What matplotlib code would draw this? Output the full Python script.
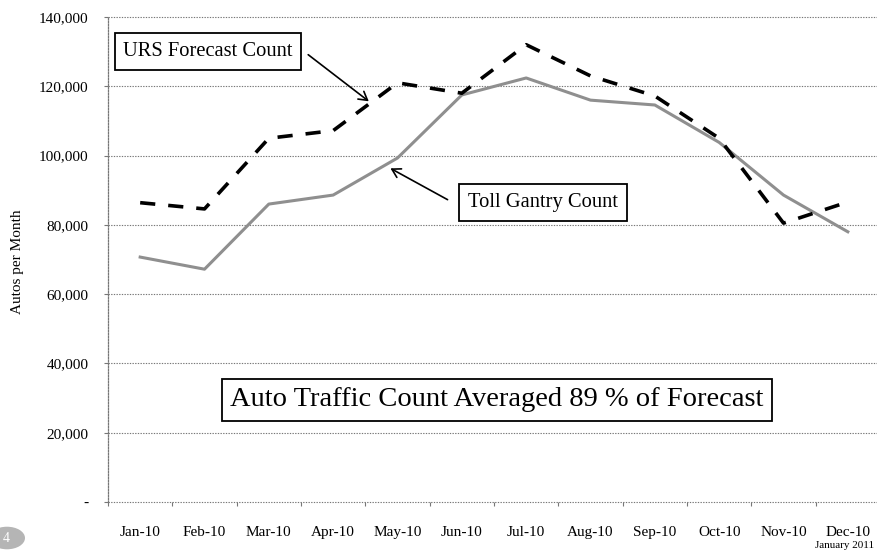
import matplotlib
matplotlib.use("Agg")
import matplotlib.pyplot as plt
from matplotlib.patches import Circle, FancyArrowPatch
from matplotlib.ticker import FuncFormatter, FixedLocator

months = ["Jan-10", "Feb-10", "Mar-10", "Apr-10", "May-10", "Jun-10",
          "Jul-10", "Aug-10", "Sep-10", "Oct-10", "Nov-10", "Dec-10"]
urs_forecast = [86400, 84600, 105000, 107200, 121000, 118000,
                132000, 123000, 117200, 105000, 80500, 86600]
toll_gantry = [70700, 67200, 86000, 88600, 99300, 117500,
               122400, 116000, 114600, 103800, 88600, 78000]
y_ticks = [0, 20000, 40000, 60000, 80000, 100000, 120000, 140000]

W, H = 877, 550
fig = plt.figure(figsize=(W / 100, H / 100), dpi=100)
plt.rcParams['font.family'] = ['Liberation Serif', 'DejaVu Serif']

def fx(px):
    return px / W

def fy(py):
    return 1 - py / H

ax = fig.add_axes([fx(108), fy(502), (880 - 108) / W, (502 - 17) / H])
x = list(range(len(months)))

ax.plot(x, toll_gantry, color='#8f8f8f', lw=2.2, solid_joinstyle='round', zorder=3)
ax.plot(x, urs_forecast, color='black', lw=2.6, dashes=(4.2, 3.6), zorder=4)

ax.set_xlim(-0.5, len(months) - 0.5)
ax.set_ylim(0, 140000)
ax.set_yticks(y_ticks)
ax.yaxis.set_major_formatter(FuncFormatter(lambda v, p: '-' if v == 0 else f'{int(v):,}'))
ax.set_xticks(x)
ax.set_xticklabels(months)
ax.xaxis.set_minor_locator(FixedLocator([i - 0.5 for i in range(len(months) + 1)]))
ax.tick_params(axis='x', which='major', length=0, pad=17, labelsize=11)
ax.tick_params(axis='x', which='minor', length=3, color='#777777', width=0.8)
ax.tick_params(axis='y', which='major', length=3, color='#777777', width=0.8,
               labelsize=11, pad=11)

for v in y_ticks:
    ax.axhline(v, color='#777777', lw=0.8, ls=(0, (1.2, 1.2)), zorder=1, clip_on=False)

for s in ['top', 'right', 'bottom']:
    ax.spines[s].set_visible(False)
ax.spines['left'].set_color('#777777')
ax.spines['left'].set_linestyle((0, (1.2, 1.2)))
ax.spines['left'].set_linewidth(0.9)

fig.text(fx(18), fy(262), 'Autos per Month', rotation=90, ha='center', va='center',
         fontsize=11)

box = dict(boxstyle='square,pad=0.42', fc='white', ec='black', lw=1.3)
fig.text(fx(208), fy(51.5), 'URS Forecast Count', ha='center', va='center',
         fontsize=14.8, bbox=box, zorder=10)
fig.text(fx(543), fy(202.5), 'Toll Gantry Count', ha='center', va='center',
         fontsize=14.8, bbox=box, zorder=10)
fig.text(fx(497), fy(400), 'Auto Traffic Count Averaged 89 % of Forecast', ha='center',
         va='center', fontsize=20.5, bbox=dict(boxstyle='square,pad=0.3', fc='white',
                                               ec='black', lw=1.3), zorder=10)

fig.add_artist(FancyArrowPatch(
    (fx(306), fy(53)), (fx(371), fy(103)), transform=fig.transFigure,
    arrowstyle='->,head_length=6,head_width=3.5', color='black', lw=1.2, zorder=11))
fig.add_artist(FancyArrowPatch(
    (fx(450), fy(201)), (fx(388), fy(167)), transform=fig.transFigure,
    arrowstyle='->,head_length=6,head_width=3.5', color='black', lw=1.2, zorder=11))

fig.text(fx(874), fy(549.5), 'January 2011', ha='right', va='bottom', fontsize=8)

fig.add_artist(Circle((fx(7), fy(538)), 18 / W, transform=fig.transFigure,
                      fc='#b5b5b5', ec='none'))
fig.text(fx(6), fy(538), '4', ha='center', va='center', fontsize=10, color='white')

fig.savefig('out.png', dpi=100)
